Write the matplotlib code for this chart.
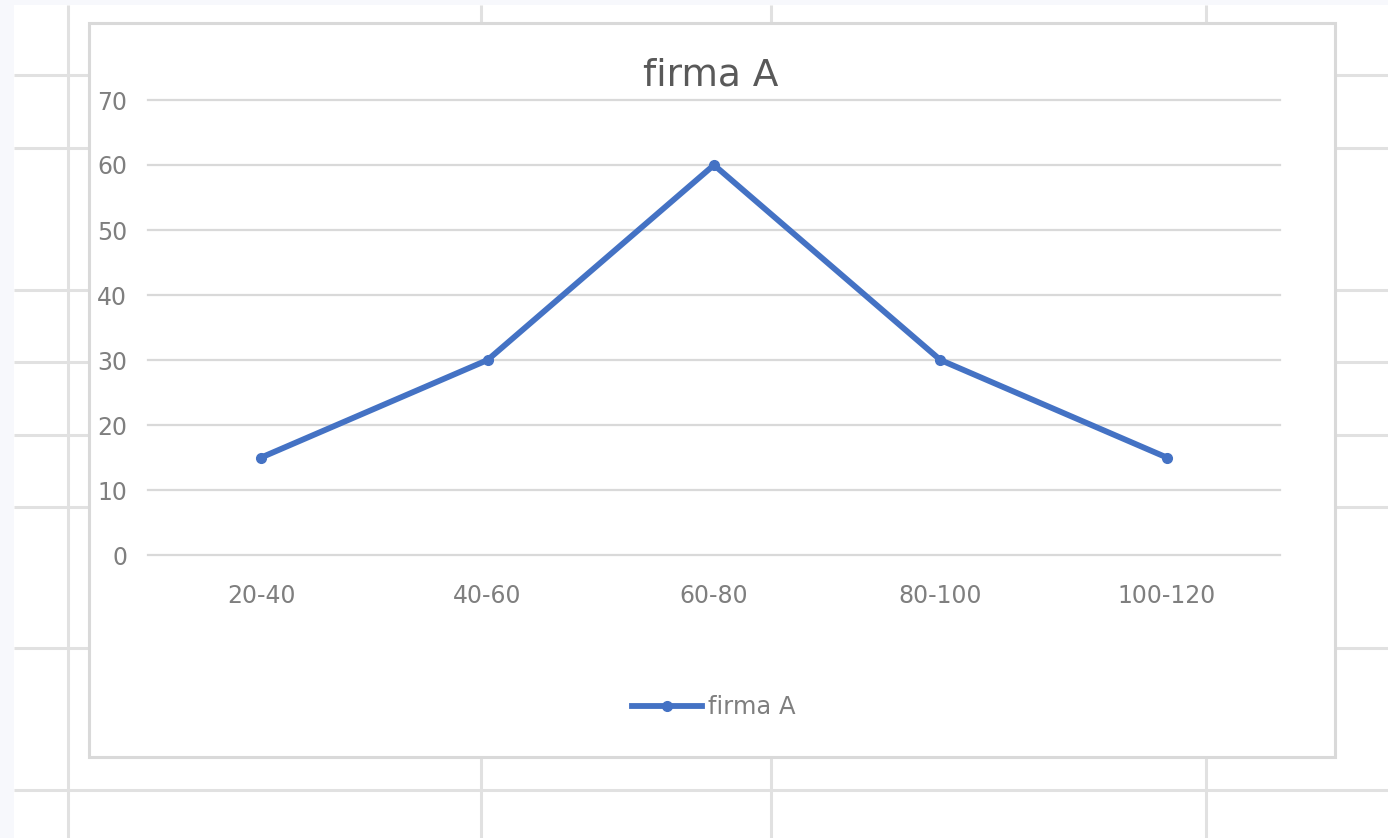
import matplotlib.pyplot as plt
from matplotlib.patches import Rectangle

# Frequency of firma A per class interval
categories = ["20-40", "40-60", "60-80", "80-100", "100-120"]
firma_a = [15, 30, 60, 30, 15]
yticks = [0, 10, 20, 30, 40, 50, 60, 70]

W, H = 1388, 838
blue = "#4472C4"
tick_grey = "#7f7f7f"

fig = plt.figure(figsize=(W / 100, H / 100), dpi=100)
fig.patch.set_facecolor("white")

# worksheet behind the chart, in pixel coordinates
bg = fig.add_axes([0, 0, 1, 1])
bg.set_xlim(0, W)
bg.set_ylim(H, 0)
bg.axis("off")
bg.add_patch(Rectangle((0, 0), 14, H, color="#f7f8fc", lw=0))
bg.add_patch(Rectangle((0, 0), W, 5, color="#f7f8fc", lw=0))
for x in [68, 481, 771, 1206]:
    bg.plot([x, x], [5, H], color="#e1e1e1", lw=2.2, solid_capstyle="butt")
for y in [75, 148, 290, 362, 435, 507, 648, 790]:
    bg.plot([14, W], [y, y], color="#e1e1e1", lw=2.2, solid_capstyle="butt")

# chart box
bg.add_patch(Rectangle((89, 23), 1335 - 89, 757 - 23, facecolor="white",
                       edgecolor="#d9d9d9", lw=2.2, zorder=5))
bg.text(711, 76, "firma A", ha="center", va="center", fontsize=27,
        color="#595959", zorder=6)

ax = fig.add_axes([148 / W, 1 - 555 / H, (1280 - 148) / W, (555 - 100) / H])
ax.set_facecolor("none")
x = list(range(len(categories)))
line, = ax.plot(x, firma_a, color=blue, lw=4.2, marker="o", ms=7,
                solid_joinstyle="round", zorder=3, label="firma A")
ax.set_xlim(-0.5, len(categories) - 0.5)
ax.set_ylim(0, 70)
ax.set_yticks(yticks)
ax.set_xticks(x)
ax.set_xticklabels(categories)
ax.grid(axis="y", color="#d9d9d9", lw=1.6)
for gl in ax.get_ygridlines():
    gl.set_clip_on(False)
ax.set_axisbelow(True)
for s in ax.spines.values():
    s.set_visible(False)
ax.tick_params(length=0, labelsize=17, labelcolor=tick_grey)
ax.tick_params(axis="y", pad=15)
ax.tick_params(axis="x", pad=21)

leg = ax.legend(handles=[line], loc="center", bbox_to_anchor=(0.5, -0.335),
                frameon=False, fontsize=17.5, handlelength=2.9, handletextpad=0.25,
                labelcolor=tick_grey)

fig.savefig("out.png", dpi=100)
